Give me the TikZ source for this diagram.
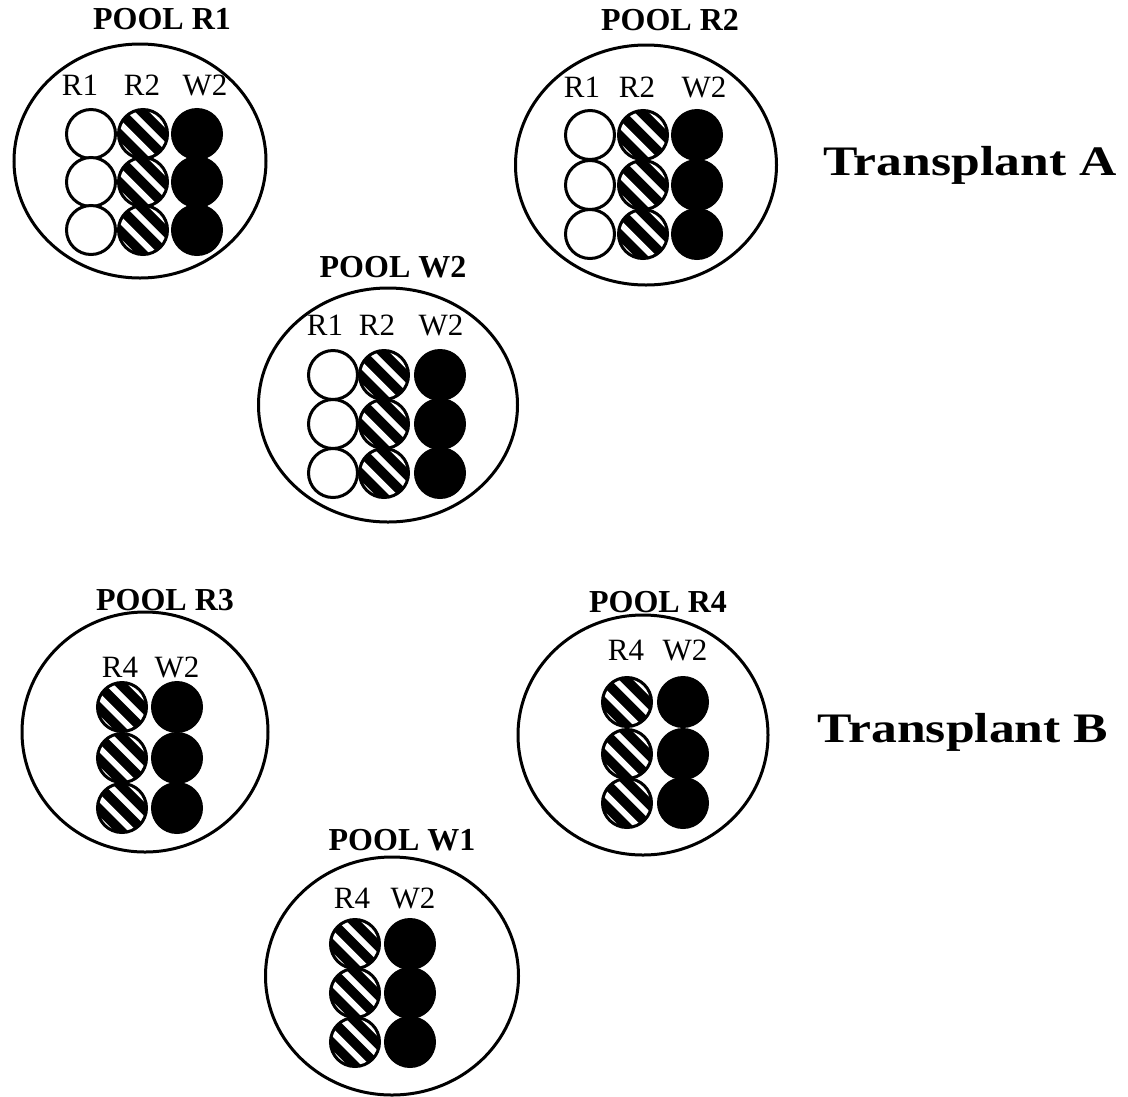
\documentclass[tikz,border=0pt]{standalone}
\usepackage{fontspec}
\setmainfont{Liberation Serif}
\usetikzlibrary{shapes.geometric}
\tikzset{
  pool/.style={draw, line width=3pt, ellipse, inner sep=0pt},
  ball/.style={circle, draw, line width=3pt, inner sep=0pt, minimum size=49pt},
  wball/.style={ball, fill=white},
  bball/.style={ball, fill=black},
  hball/.style={ball, fill=black,
    path picture={
      \foreach \k in {-3,...,3}
        \draw[white, line width=6pt]
          ([shift={(\k*11.3pt+5pt-40pt,\k*11.3pt+5pt+40pt)}]path picture bounding box.center) --
          ([shift={(\k*11.3pt+5pt+40pt,\k*11.3pt+5pt-40pt)}]path picture bounding box.center);
    }},
  title/.style={font=\bfseries\fontsize{32}{32}\selectfont, anchor=base, inner sep=0pt},
  col/.style={font=\fontsize{31}{31}\selectfont, anchor=base, inner sep=0pt},
  big/.style={font=\bfseries\fontsize{42}{42}\selectfont, anchor=base, inner sep=0pt}
}
\begin{document}
\begin{tikzpicture}[x=1pt,y=-1pt]
\useasboundingbox (0,0) rectangle (1128,1096);
% ---------- Pool R1
\node[title] (tR1) at (162,29) {POOL R1};
\node[pool, minimum width=252pt, minimum height=234pt] (pR1) at (140,161) {};
\node[col] (cR1a) at (80,95) {R1};
\node[col] (cR1b) at (142,95) {R2};
\node[col] (cR1c) at (205,95) {W2};
\foreach \i/\y in {1/134,2/182,3/230}{
  \node[wball] (r1w\i) at (91,\y) {};
  \node[hball] (r1h\i) at (143,\y) {};
  \node[bball] (r1b\i) at (197,\y) {};
}
% ---------- Pool R2
\node[title] (tR2) at (670,30) {POOL R2};
\node[pool, minimum width=261pt, minimum height=240pt] (pR2) at (646,165) {};
\node[col] (cR2a) at (582,97) {R1};
\node[col] (cR2b) at (637,97) {R2};
\node[col] (cR2c) at (704,97) {W2};
\foreach \i/\y in {1/135,2/185,3/234}{
  \node[wball] (r2w\i) at (590,\y) {};
  \node[hball] (r2h\i) at (643,\y) {};
  \node[bball] (r2b\i) at (697,\y) {};
}
% ---------- Pool W2
\node[title] (tW2) at (393,277) {POOL W2};
\node[pool, minimum width=259pt, minimum height=234pt] (pW2) at (388,405) {};
\node[col] (cW2a) at (325,335) {R1};
\node[col] (cW2b) at (377,335) {R2};
\node[col] (cW2c) at (441,335) {W2};
\foreach \i/\y in {1/375,2/424,3/473}{
  \node[wball] (w2w\i) at (333,\y) {};
  \node[hball] (w2h\i) at (384,\y) {};
  \node[bball] (w2b\i) at (440,\y) {};
}
% ---------- Transplant labels
\node[big] (tA) at (970,175) {\scalebox{1.23}[1]{Transplant A}};
\node[big] (tB) at (963,742) {\scalebox{1.23}[1]{Transplant B}};
% ---------- Pool R3
\node[title] (tR3) at (165,610) {POOL R3};
\node[pool, minimum width=246pt, minimum height=240pt] (pR3) at (145,732) {};
\node[col] (cR3a) at (120,677) {R4};
\node[col] (cR3b) at (177,677) {W2};
\foreach \i/\y in {1/707,2/758,3/808}{
  \node[hball] (r3h\i) at (122,\y) {};
  \node[bball] (r3b\i) at (177,\y) {};
}
% ---------- Pool R4
\node[title] (tR4) at (658,612) {POOL R4};
\node[pool, minimum width=250pt, minimum height=240pt] (pR4) at (643,735) {};
\node[col] (cR4a) at (626,660) {R4};
\node[col] (cR4b) at (685,660) {W2};
\foreach \i/\y in {1/702,2/754,3/803}{
  \node[hball] (r4h\i) at (627,\y) {};
  \node[bball] (r4b\i) at (683,\y) {};
}
% ---------- Pool W1
\node[title] (tW1) at (402,850) {POOL W1};
\node[pool, minimum width=253pt, minimum height=238pt] (pW1) at (392,976) {};
\node[col] (cW1a) at (352,908) {R4};
\node[col] (cW1b) at (413,908) {W2};
\foreach \i/\y in {1/944,2/993,3/1042}{
  \node[hball] (w1h\i) at (355,\y) {};
  \node[bball] (w1b\i) at (410,\y) {};
}
\end{tikzpicture}
\end{document}
